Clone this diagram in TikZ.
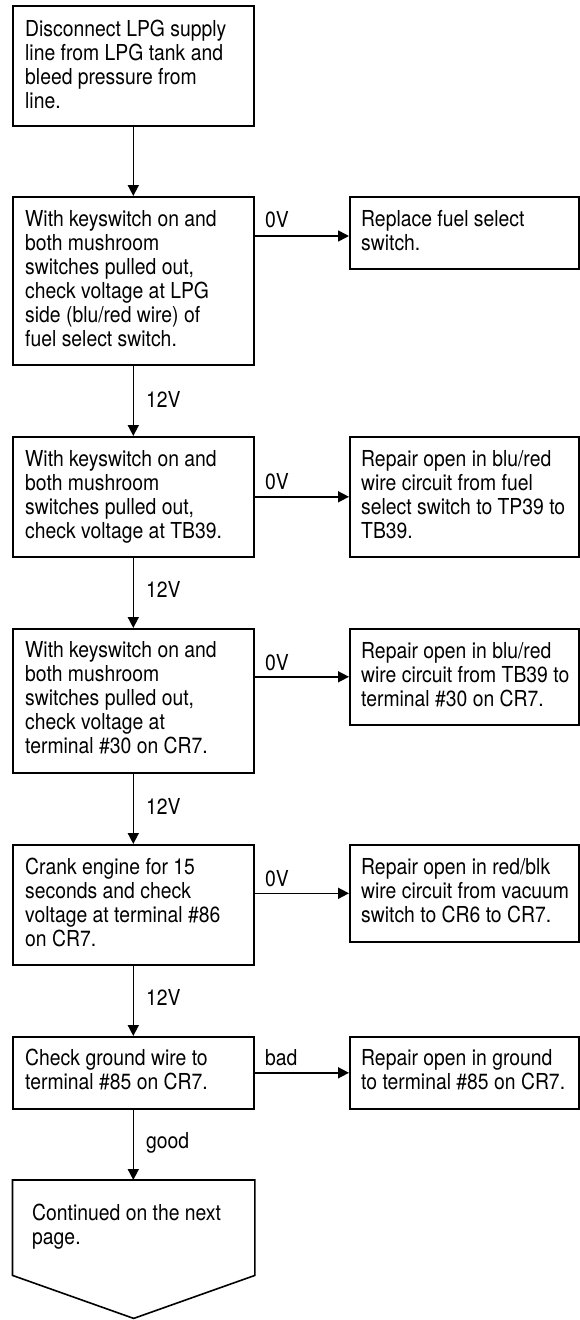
\documentclass[tikz,border=0pt]{standalone}
\usepackage{fontspec}
\setmainfont{TeX Gyre Heros}[FakeStretch=0.88]
\usetikzlibrary{arrows.meta}
\newcommand\flines[1]{\begin{tabular}[t]{@{}l@{}}#1\end{tabular}}
\begin{document}
\begin{tikzpicture}[x=1pt,y=-1pt,
  box/.style={draw, line width=1.6pt, inner sep=0pt, anchor=north west, minimum width=241pt},
  rbox/.style={draw, line width=1.6pt, inner sep=0pt, anchor=north west, minimum width=229pt},
  txt/.style={inner sep=0pt, anchor=base west, font=\fontsize{22}{24}\selectfont},
  lbl/.style={inner sep=0pt, anchor=base west, font=\fontsize{22}{24}\selectfont},
  arr/.style={line width=1.6pt, -{Triangle[length=11pt,width=11pt]}}
]
\useasboundingbox (0,0) rectangle (579,1320);

% left column boxes
\node[box, minimum height=120pt] (b1) at (12,5) {};
\node[box, minimum height=168pt] (b2) at (12,196) {};
\node[box, minimum height=120pt] (b3) at (12,436) {};
\node[box, minimum height=144pt] (b4) at (12,628) {};
\node[box, minimum height=120pt] (b5) at (12,844) {};
\node[box, minimum height=72pt]  (b6) at (12,1036) {};

% right column boxes
\node[rbox, minimum height=72pt]  (r2) at (349,196) {};
\node[rbox, minimum height=120pt] (r3) at (349,436) {};
\node[rbox, minimum height=96pt]  (r4) at (349,628) {};
\node[rbox, minimum height=97pt]  (r5) at (349,844) {};
\node[rbox, minimum height=72pt]  (r6) at (349,1036) {};

% continuation pentagon
\node[inner sep=0pt, minimum width=242pt, minimum height=95pt, anchor=north west] (cont) at (12.5,1180) {};
\fill[black!22, shift={(3,3)}] (cont.north west) -- (cont.north east) -- (cont.south east)
  -- ([shift={(0,43)}]cont.south) -- (cont.south west) -- cycle;
\draw[line width=1.6pt, fill=white] (cont.north west) -- (cont.north east) -- (cont.south east)
  -- ([shift={(0,43)}]cont.south) -- (cont.south west) -- cycle;

% texts
\node[txt] (t1) at ([shift={(13,31)}]b1.north west) {\flines{Disconnect LPG supply\\line from LPG tank and\\bleed pressure from\\line.}};
\node[txt] (t2) at ([shift={(13,30)}]b2.north west) {\flines{With keyswitch on and\\both mushroom\\switches pulled out,\\check voltage at LPG\\side (blu/red wire) of\\fuel select switch.}};
\node[txt] (t3) at ([shift={(13,30)}]b3.north west) {\flines{With keyswitch on and\\both mushroom\\switches pulled out,\\check voltage at TB39.}};
\node[txt] (t4) at ([shift={(13,29)}]b4.north west) {\flines{With keyswitch on and\\both mushroom\\switches pulled out,\\check voltage at\\terminal \#30 on CR7.}};
\node[txt] (t5) at ([shift={(13,30)}]b5.north west) {\flines{Crank engine for 15\\seconds and check\\voltage at terminal \#86\\on CR7.}};
\node[txt] (t6) at ([shift={(13,29)}]b6.north west) {\flines{Check ground wire to\\terminal \#85 on CR7.}};

\node[txt] (s2) at ([shift={(12,30)}]r2.north west) {\flines{Replace fuel select\\switch.}};
\node[txt] (s3) at ([shift={(12,30)}]r3.north west) {\flines{Repair open in blu/red\\wire circuit from fuel\\select switch to TP39 to\\TB39.}};
\node[txt] (s4) at ([shift={(12,30)}]r4.north west) {\flines{Repair open in blu/red\\wire circuit from TB39 to\\terminal \#30 on CR7.}};
\node[txt] (s5) at ([shift={(12,30)}]r5.north west) {\flines{Repair open in red/blk\\wire circuit from vacuum\\switch to CR6 to CR7.}};
\node[txt] (s6) at ([shift={(12,29)}]r6.north west) {\flines{Repair open in ground\\to terminal \#85 on CR7.}};

\node[txt] (tc) at ([shift={(19.5,40)}]cont.north west) {\flines{Continued on the next\\page.}};

% vertical connectors
\draw[arr] (b1.south) -- (b2.north);
\draw[arr] (b2.south) -- (b3.north);
\draw[arr] (b3.south) -- (b4.north);
\draw[arr] (b4.south) -- (b5.north);
\draw[arr] (b5.south) -- (b6.north);
\draw[arr] (b6.south) -- (b6.south |- cont.north);

% horizontal connectors
\coordinate (a2) at ([shift={(0,40)}]r2.north west);
\draw[arr] (b2.east |- a2) -- (a2);
\draw[arr] (b3.east |- r3.west) -- (r3.west);
\draw[arr] (b4.east |- r4.west) -- (r4.west);
\draw[arr] (b5.east |- r5.west) -- (r5.west);
\draw[arr] (b6.east |- r6.west) -- (r6.west);

% labels
\node[lbl] (l2) at (265,227) {0V};
\node[lbl] (l3) at (265,489) {0V};
\node[lbl] (l4) at (265,670) {0V};
\node[lbl] (l5) at (265,886) {0V};
\node[lbl] (l6) at (265,1065) {bad};

\node[lbl] (v2) at (146,407) {12V};
\node[lbl] (v3) at (146,597) {12V};
\node[lbl] (v4) at (146,814) {12V};
\node[lbl] (v5) at (146,1005) {12V};
\node[lbl] (v6) at (146,1148) {good};
\end{tikzpicture}
\end{document}
